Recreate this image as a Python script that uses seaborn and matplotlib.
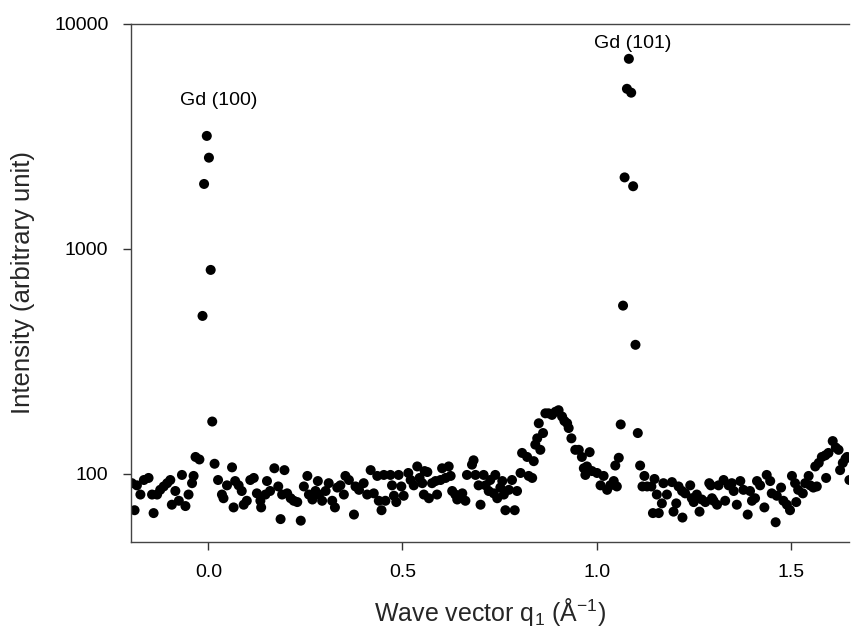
import matplotlib
matplotlib.use("Agg")
import matplotlib.pyplot as plt
import matplotlib.ticker as mticker
import seaborn as sns
import pandas as pd

q_values = [
    -0.197, -0.19, -0.184, -0.175, -0.166, -0.154, -0.145, -0.141, -0.132, -0.124,
    -0.115, -0.106, -0.098, -0.094, -0.085, -0.076, -0.068, -0.059, -0.051, -0.042,
    -0.038, -0.033, -0.023, -0.015, -0.011, -0.004, 0.0015, 0.006, 0.01, 0.016,
    0.025, 0.035, 0.039, 0.048, 0.061, 0.065, 0.069, 0.078, 0.086, 0.091,
    0.099, 0.108, 0.117, 0.125, 0.134, 0.136, 0.147, 0.151, 0.159, 0.17,
    0.18, 0.186, 0.19, 0.196, 0.203, 0.212, 0.22, 0.229, 0.238, 0.246,
    0.255, 0.259, 0.268, 0.276, 0.282, 0.285, 0.293, 0.302, 0.31, 0.319,
    0.326, 0.332, 0.34, 0.349, 0.353, 0.362, 0.375, 0.379, 0.388, 0.4,
    0.409, 0.418, 0.426, 0.435, 0.439, 0.446, 0.452, 0.456, 0.469, 0.473,
    0.478, 0.484, 0.49, 0.497, 0.503, 0.515, 0.521, 0.529, 0.538, 0.544,
    0.551, 0.555, 0.557, 0.564, 0.568, 0.576, 0.585, 0.589, 0.598, 0.602,
    0.611, 0.619, 0.624, 0.628, 0.636, 0.641, 0.654, 0.662, 0.666, 0.679,
    0.683, 0.688, 0.696, 0.701, 0.709, 0.714, 0.722, 0.726, 0.735, 0.739,
    0.744, 0.752, 0.757, 0.761, 0.765, 0.774, 0.782, 0.789, 0.795, 0.804,
    0.808, 0.821, 0.825, 0.834, 0.838, 0.842, 0.847, 0.851, 0.855, 0.862,
    0.868, 0.876, 0.885, 0.894, 0.902, 0.911, 0.917, 0.924, 0.928, 0.935,
    0.945, 0.954, 0.962, 0.967, 0.971, 0.975, 0.982, 0.988, 1.001, 1.01,
    1.018, 1.027, 1.035, 1.044, 1.048, 1.052, 1.057, 1.062, 1.068, 1.072,
    1.078, 1.083, 1.089, 1.094, 1.1, 1.106, 1.112, 1.118, 1.123, 1.13,
    1.141, 1.145, 1.149, 1.155, 1.16, 1.168, 1.172, 1.181, 1.194, 1.198,
    1.205, 1.211, 1.22, 1.221, 1.228, 1.241, 1.245, 1.25, 1.258, 1.265,
    1.271, 1.28, 1.29, 1.294, 1.297, 1.301, 1.31, 1.314, 1.327, 1.331,
    1.34, 1.348, 1.353, 1.361, 1.37, 1.378, 1.389, 1.395, 1.4, 1.408,
    1.413, 1.421, 1.432, 1.438, 1.447, 1.451, 1.461, 1.464, 1.475, 1.481,
    1.49, 1.498, 1.503, 1.511, 1.514, 1.519, 1.531, 1.537, 1.546, 1.55,
    1.558, 1.563, 1.567, 1.572, 1.58, 1.589, 1.591, 1.597, 1.608, 1.616,
    1.623, 1.627, 1.634, 1.641, 1.645, 1.651,
]

intensity = [
    91, 69, 89, 81, 94, 96, 81, 67, 81, 85,
    88, 91, 94, 73, 84, 76, 99, 72, 81, 91,
    98, 119, 116, 504, 1945, 3180, 2545, 807, 171, 111,
    94, 81, 78, 89, 107, 71, 93, 89, 84, 73,
    76, 94, 96, 82, 76, 71, 81, 93, 84, 106,
    88, 63, 81, 104, 82, 78, 76, 75, 62, 88,
    98, 81, 77, 84, 93, 81, 76, 84, 91, 76,
    71, 87, 89, 81, 98, 94, 66, 88, 85, 91,
    81, 104, 82, 98, 76, 69, 99, 76, 99, 89,
    80, 75, 99, 88, 80, 101, 94, 89, 108, 96,
    91, 81, 103, 102, 78, 91, 93, 81, 94, 106,
    96, 108, 98, 84, 81, 77, 82, 76, 99, 110,
    115, 99, 89, 73, 99, 89, 84, 94, 82, 99,
    78, 87, 93, 81, 69, 85, 94, 69, 84, 101,
    124, 119, 98, 96, 114, 135, 144, 168, 128, 152,
    186, 186, 183, 189, 192, 180, 172, 168, 160, 144,
    128, 128, 119, 106, 99, 108, 125, 103, 101, 89,
    98, 85, 89, 93, 109, 88, 118, 166, 560, 2080,
    5150, 7000, 4950, 1900, 375, 152, 109, 88, 98, 88,
    88, 67, 95, 81, 67, 74, 91, 81, 92, 68,
    74, 88, 84, 64, 82, 89, 78, 75, 81, 68,
    77, 75, 91, 89, 78, 76, 73, 89, 94, 76,
    89, 91, 84, 73, 93, 85, 66, 84, 76, 78,
    93, 89, 71, 99, 93, 82, 61, 80, 87, 76,
    73, 69, 98, 91, 75, 85, 82, 91, 98, 89,
    87, 108, 88, 112, 119, 121, 96, 124, 140, 131,
    128, 104, 112, 117, 119, 94,
]

x_ticks = [0.0, 0.5, 1.0, 1.5]
x_tick_labels = ["0.0", "0.5", "1.0", "1.5"]
y_ticks = [100, 1000, 10000]
y_tick_labels = ["100", "1000", "10000"]

peak_labels = ["Gd (100)", "Gd (101)"]
peak_label_q = [0.027, 1.092]
peak_label_i = [4550, 8150]

df = pd.DataFrame({"q": q_values, "I": intensity})

sns.set_style("white")
plt.rcParams["font.family"] = ["Liberation Sans", "DejaVu Sans"]

fig = plt.figure(figsize=(8.57, 6.34), dpi=100)
ax = fig.add_axes([0.1525, 0.1456, 0.8382, 0.8166])

sns.scatterplot(data=df, x="q", y="I", ax=ax, color="black", s=52,
                edgecolor="none", linewidth=0, legend=False, clip_on=True)

ax.set_yscale("log")
ax.set_xlim(-0.2, 1.65)
ax.set_ylim(50, 10000)

ax.xaxis.set_major_locator(mticker.FixedLocator(x_ticks))
ax.set_xticklabels(x_tick_labels)
ax.yaxis.set_major_locator(mticker.FixedLocator(y_ticks))
ax.yaxis.set_minor_locator(mticker.NullLocator())
ax.set_yticklabels(y_tick_labels)

ax.tick_params(axis="both", which="major", direction="out", length=6,
               width=1, color="#333333", labelsize=14, pad=10, labelcolor="black")
ax.tick_params(left=True, bottom=True)

for side in ["left", "bottom", "top"]:
    ax.spines[side].set_visible(True)
    ax.spines[side].set_color("#444444")
    ax.spines[side].set_linewidth(1.0)
ax.spines["right"].set_visible(False)

ax.set_xlabel("Wave vector q$_\\mathregular{1}$ (Å$^\\mathregular{-1}$)", fontsize=18, labelpad=11)
ax.set_ylabel("Intensity (arbitrary unit)", fontsize=18.5, labelpad=14)

for lab, xq, yi in zip(peak_labels, peak_label_q, peak_label_i):
    ax.text(xq, yi, lab, ha="center", va="center", fontsize=14, color="black")

fig.savefig("out.png", dpi=100)
